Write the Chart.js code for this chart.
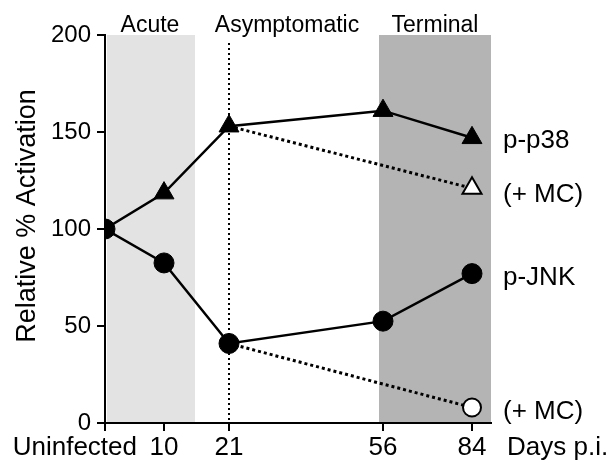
<!DOCTYPE html>
<html>
<head>
<meta charset="utf-8">
<script src="https://cdn.jsdelivr.net/npm/chart.js@4"></script>
<style>
  html, body { margin: 0; padding: 0; background: #fff; }
  #wrap { width: 613px; height: 463px; }
</style>
</head>
<body>
<div id="wrap"><canvas id="out" width="613" height="463"></canvas></div>
<script>
// categories on the x axis (days post infection) and where each sits on the (uneven) axis
const categories = ['Uninfected', '10', '21', '56', '84'];
const axisPos = [0, 59, 124, 278, 367];
const axisMax = 386;

// relative % activation
const p38 = [100, 118.5, 153, 161, 147];
const jnk = [100, 82.5, 41, 52.5, 77];
const p38MC = [null, null, 153, null, 121];
const jnkMC = [null, null, 41, null, 8];

const yTicks = [0, 50, 100, 150, 200];

// infection phases
const phases = ['Acute', 'Asymptomatic', 'Terminal'];
const phaseEdges = [0, 90, 274, 386];

const seriesNames = ['p-p38', '(+ MC)', 'p-JNK', '(+ MC)'];
const yTitle = 'Relative % Activation';

const FONT = 'Liberation Sans, Arial, Helvetica, sans-serif';

function pts(arr) {
  const out = [];
  for (let i = 0; i < arr.length; i++) {
    if (arr[i] !== null) out.push({ x: axisPos[i], y: arr[i] });
  }
  return out;
}

const bgPlugin = {
  id: 'phases',
  beforeDatasetsDraw(chart) {
    const ctx = chart.ctx;
    const xs = chart.scales.x;
    const area = chart.chartArea;
    ctx.save();
    // shaded bands: acute (light), terminal (dark)
    ctx.fillStyle = '#e3e3e3';
    ctx.fillRect(xs.getPixelForValue(phaseEdges[0]) + 2, area.top, xs.getPixelForValue(phaseEdges[1]) - xs.getPixelForValue(phaseEdges[0]) - 2, area.bottom - area.top - 1);
    ctx.fillStyle = '#b4b4b4';
    ctx.fillRect(xs.getPixelForValue(phaseEdges[2]), area.top, xs.getPixelForValue(phaseEdges[3]) - xs.getPixelForValue(phaseEdges[2]), area.bottom - area.top - 1);
    // dotted line at day 21
    const x21 = xs.getPixelForValue(axisPos[2]);
    ctx.strokeStyle = '#000';
    ctx.lineWidth = 2;
    ctx.setLineDash([2, 3]);
    ctx.beginPath();
    ctx.moveTo(x21, area.top + 8);
    ctx.lineTo(x21, area.bottom);
    ctx.stroke();
    ctx.restore();
  },
  afterDraw(chart) {
    const ctx = chart.ctx;
    const xs = chart.scales.x;
    const ys = chart.scales.y;
    const area = chart.chartArea;
    ctx.save();
    ctx.fillStyle = '#000';
    // phase names above the plot
    ctx.font = '23px ' + FONT;
    ctx.textAlign = 'center';
    ctx.textBaseline = 'alphabetic';
    for (let i = 0; i < phases.length; i++) {
      const mid = (xs.getPixelForValue(phaseEdges[i]) + xs.getPixelForValue(phaseEdges[i + 1])) / 2;
      ctx.fillText(phases[i], mid, 32);
    }
    // x tick labels
    ctx.font = '26px ' + FONT;
    ctx.textBaseline = 'middle';
    for (let i = 0; i < categories.length; i++) {
      const px = xs.getPixelForValue(axisPos[i]);
      if (i === 0) {
        ctx.textAlign = 'right';
        ctx.fillText(categories[i], px + 32, area.bottom + 25);
      } else {
        ctx.textAlign = 'center';
        ctx.fillText(categories[i], px, area.bottom + 25);
      }
    }
    ctx.textAlign = 'left';
    ctx.fillText('Days p.i.', area.right + 16, area.bottom + 25);
    // series labels on the right, beside each series' last point
    const ends = [p38, p38MC, jnk, jnkMC];
    const offs = [3, 7, 4, 4];
    for (let i = 0; i < ends.length; i++) {
      const yv = ends[i][ends[i].length - 1];
      ctx.fillText(seriesNames[i], area.right + 12, ys.getPixelForValue(yv) + offs[i]);
    }
    // y axis title
    ctx.font = '27px ' + FONT;
    ctx.textAlign = 'center';
    ctx.translate(28, area.top + 181);
    ctx.rotate(-Math.PI / 2);
    ctx.fillText(yTitle, 0, 0);
    ctx.restore();
  }
};

const ctx = document.getElementById('out').getContext('2d');
new Chart(ctx, {
  type: 'line',
  data: {
    datasets: [
      {
        label: 'p-p38',
        data: pts(p38),
        borderColor: '#000',
        borderWidth: 2.5,
        pointStyle: 'triangle',
        pointRadius: 11.5,
        pointBackgroundColor: '#000',
        pointBorderColor: '#000',
        pointBorderWidth: 1
      },
      {
        label: 'p-JNK',
        data: pts(jnk),
        borderColor: '#000',
        borderWidth: 2.5,
        pointStyle: 'circle',
        pointRadius: 10,
        pointBackgroundColor: '#000',
        pointBorderColor: '#000',
        pointBorderWidth: 1
      },
      {
        label: 'p-p38 (+ MC)',
        data: pts(p38MC),
        borderColor: '#000',
        borderWidth: 3,
        borderDash: [3, 3],
        pointStyle: 'triangle',
        pointRadius: [0, 11],
        pointBackgroundColor: '#fff',
        pointBorderColor: '#000',
        pointBorderWidth: 2
      },
      {
        label: 'p-JNK (+ MC)',
        data: pts(jnkMC),
        borderColor: '#000',
        borderWidth: 3,
        borderDash: [3, 3],
        pointStyle: 'circle',
        pointRadius: [0, 9],
        pointBackgroundColor: '#fff',
        pointBorderColor: '#000',
        pointBorderWidth: 2
      }
    ]
  },
  options: {
    responsive: false,
    animation: false,
    layout: { padding: { top: 35, right: 122, left: 0, bottom: 0 } },
    plugins: { legend: { display: false }, tooltip: { enabled: false } },
    scales: {
      x: {
        type: 'linear',
        min: 0,
        max: axisMax,
        afterBuildTicks(scale) { scale.ticks = axisPos.map(v => ({ value: v })); },
        afterFit(scale) { scale.height = 40; },
        ticks: { display: false },
        grid: { drawOnChartArea: false, drawTicks: true, tickLength: 8, color: '#000', lineWidth: 2 },
        border: { display: true, color: '#000', width: 2 }
      },
      y: {
        min: 0,
        max: 200,
        afterBuildTicks(scale) { scale.ticks = yTicks.map(v => ({ value: v })); },
        afterFit(scale) { scale.width = 105; },
        ticks: { color: '#000', font: { family: FONT, size: 24 }, padding: 6 },
        grid: { drawOnChartArea: false, drawTicks: true, tickLength: 8, color: '#000', lineWidth: 2 },
        border: { display: true, color: '#000', width: 2 },
        title: { display: false }
      }
    }
  },
  plugins: [bgPlugin]
});
</script>
</body>
</html>
